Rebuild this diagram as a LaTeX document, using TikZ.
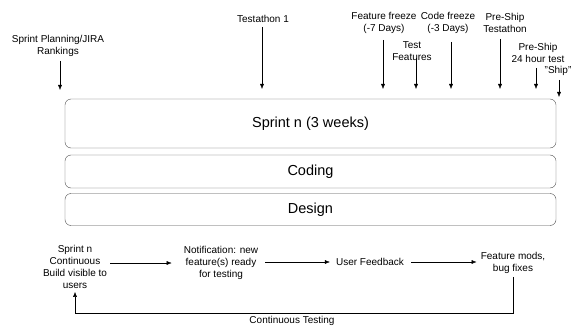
\documentclass[tikz,border=0pt]{standalone}
\usepackage{fontspec}
\setmainfont{Liberation Sans}
\usetikzlibrary{arrows.meta}
\begin{document}
\begin{tikzpicture}[x=1pt,y=-1pt,
  lbl/.style={align=center,font=\fontsize{10}{12}\selectfont,inner sep=1pt},
  phase/.style={draw=black!70,rounded corners=6pt,minimum width=491pt,font=\fontsize{14.5}{17}\selectfont,inner sep=0pt},
  tick/.style={-{Latex[length=5pt,width=4pt]},shorten <=3pt},
  flow/.style={-{Latex[length=5pt,width=4pt]},shorten <=6pt,shorten >=5pt}]
  \useasboundingbox (0,0) rectangle (575,326);
  % the three bars
  \node[phase,minimum height=49pt] (sprint) at (310.5,123.5) {Sprint n (3 weeks)};
  \node[phase,minimum height=33pt] (coding) at (310.5,171.5) {Coding};
  \node[phase,minimum height=32pt] (design) at (310.5,209.5) {Design};
  % milestones on top
  \node[lbl] (plan) at (58,46) {Sprint Planning/JIRA\\Rankings};
  \coordinate (planend) at (60,90);
  \draw[tick] (plan.south -| planend) -- (planend);
  \node[lbl] (test1) at (263,19) {Testathon 1};
  \coordinate (test1end) at (262,89);
  \draw[tick] (test1.south -| test1end) -- (test1end);
  \node[lbl] (ffreeze) at (384,23) {Feature freeze\\(-7 Days)};
  \coordinate (ffreezeend) at (383,89);
  \draw[tick,shorten <=5pt] (ffreeze.south -| ffreezeend) -- (ffreezeend);
  \node[lbl] (tfeat) at (412,51) {Test\\Features};
  \coordinate (tfeatend) at (416,89);
  \draw[tick] ([yshift=-4pt]tfeat.center -| tfeatend) -- (tfeatend);
  \node[lbl] (cfreeze) at (448,23) {Code freeze\\(-3 Days)};
  \coordinate (cfreezeend) at (451,89);
  \draw[tick,shorten <=7pt] (cfreeze.south -| cfreezeend) -- (cfreezeend);
  \node[lbl] (pstest) at (505,23) {Pre-Ship\\Testathon};
  \coordinate (pstestend) at (500,89);
  \draw[tick,shorten <=5pt] (pstest.south -| pstestend) -- (pstestend);
  \node[lbl] (ps24) at (538,53) {Pre-Ship\\24 hour test};
  \coordinate (ps24end) at (536,89);
  \draw[tick,shorten <=4pt] (ps24.south -| ps24end) -- (ps24end);
  \node[lbl] (ship) at (558,71) {"Ship"};
  \coordinate (shipend) at (559,97);
  \draw[tick] (ship.south -| shipend) -- (shipend);
  % continuous testing loop
  \node[lbl] (build) at (75,267) {Sprint n\\Continuous\\Build visible to\\users};
  \node[lbl] (notif) at (221,263) {Notification: new\\feature(s) ready\\for testing};
  \node[lbl] (fback) at (370,262) {User Feedback};
  \node[lbl] (mods) at (513,263) {Feature mods,\\bug fixes};
  \draw[flow,shorten <=2pt,shorten >=11pt] (build.east |- notif) -- (notif);
  \draw[flow] (notif.east |- fback) -- (fback);
  \draw[flow,shorten >=3pt] (fback) -- (mods.west |- fback);
  \coordinate (loop) at (0,313);
  \draw[-{Latex[length=5pt,width=4pt]},shorten <=2pt,shorten >=2pt] (mods.south) -- (mods.south |- loop) -| (build.south);
  \node[lbl] (ctest) at (292,321) {Continuous Testing};
\end{tikzpicture}
\end{document}
